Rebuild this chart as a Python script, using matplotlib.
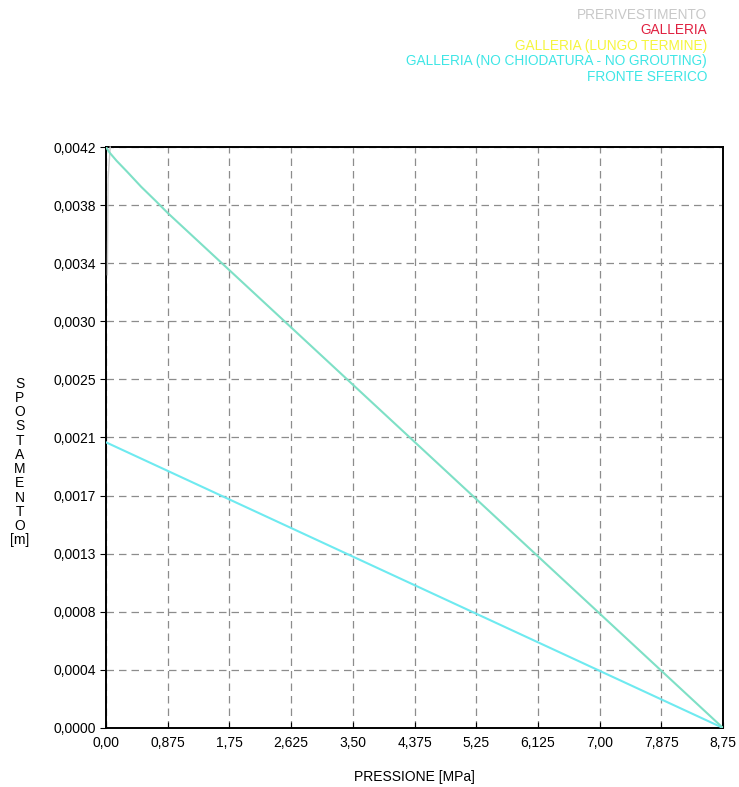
import matplotlib.pyplot as plt
from matplotlib.ticker import FixedLocator, FixedFormatter

plt.rcParams['font.family'] = ['Liberation Sans', 'DejaVu Sans']

# pressione [MPa] / spostamento [m]
p_galleria = [0.0, 0.05, 0.15, 0.30, 0.50, 0.70, 0.875, 8.75]
u_galleria = [0.00423, 0.00419, 0.00413, 0.00405, 0.00394, 0.00384, 0.00375, 0.0]

p_fronte = [0.0, 8.75]
u_fronte = [0.00208, 0.0]

p_prerivest = [0.02, 0.03, 0.06]
u_prerivest = [0.00330, 0.00400, 0.00423]

x_ticks = [0.0, 0.875, 1.75, 2.625, 3.5, 4.375, 5.25, 6.125, 7.0, 7.875, 8.75]
x_labels = ['0,00', '0,875', '1,75', '2,625', '3,50', '4,375', '5,25',
            '6,125', '7,00', '7,875', '8,75']
y_max = 0.00423
y_ticks = [y_max * i / 10 for i in range(11)]
y_labels = ['0,0000', '0,0004', '0,0008', '0,0013', '0,0017', '0,0021',
            '0,0025', '0,0030', '0,0034', '0,0038', '0,0042']

legend_items = [
    ('PRERIVESTIMENTO', '#c8c8c8'),
    ('GALLERIA', '#e02040'),
    ('GALLERIA (LUNGO TERMINE)', '#f5f53c'),
    ('GALLERIA (NO CHIODATURA - NO GROUTING)', '#3ee6e6'),
    ('FRONTE SFERICO', '#3ee6e6'),
]

fig = plt.figure(figsize=(7.39, 7.87), dpi=100)
ax = fig.add_axes([0.1434, 0.075, 0.835, 0.7382])

ax.plot(p_prerivest, u_prerivest, color='#c8c8c8', lw=1.0, zorder=3,
        clip_on=False)
ax.plot(p_fronte, u_fronte, color='#6eeaf0', lw=1.5, zorder=4)
ax.plot(p_galleria, u_galleria, color='#7ee0c6', lw=1.5, zorder=5)

ax.set_xlim(0, 8.75)
ax.set_ylim(0, y_max)
ax.xaxis.set_major_locator(FixedLocator(x_ticks))
ax.xaxis.set_major_formatter(FixedFormatter(x_labels))
ax.yaxis.set_major_locator(FixedLocator(y_ticks))
ax.yaxis.set_major_formatter(FixedFormatter(y_labels))
ax.tick_params(axis='x', direction='in', length=4, labelsize=10, pad=6)
ax.tick_params(axis='y', direction='out', length=4, labelsize=10, pad=3)

ax.grid(True, color='#8c8c8c', linestyle=(0, (6, 4)), linewidth=0.9)
for s in ax.spines.values():
    s.set_linewidth(1.4)

ax.set_xlabel('PRESSIONE [MPa]', fontsize=10, labelpad=14)
fig.text(0.027, 0.413, '\n'.join(list('SPOSTAMENTO') + ['[m]']),
         fontsize=10, ha='center', va='center', linespacing=1.02)

for i, (txt, col) in enumerate(legend_items):
    fig.text(0.957, 1 - (15 + i * 15.5) / 787, txt, color=col, fontsize=9.8,
             ha='right', va='center')

fig.savefig('out.png', dpi=100)
